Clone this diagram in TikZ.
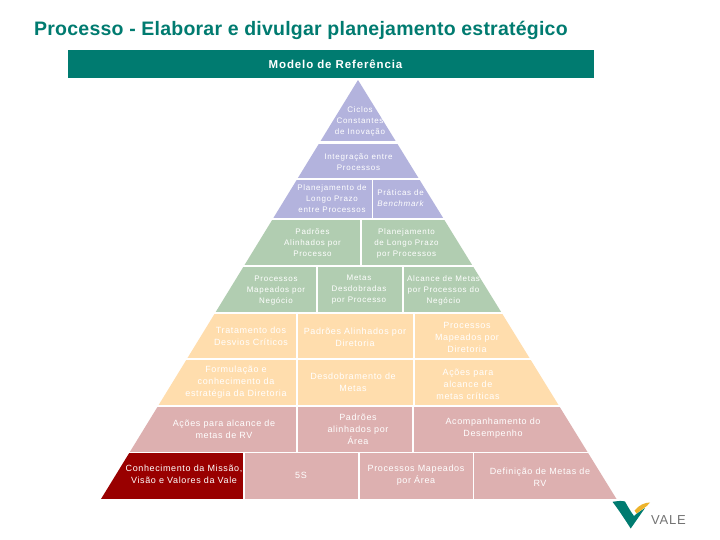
\documentclass[tikz,border=0pt]{standalone}
\usepackage{fontspec}
\setmainfont{Liberation Sans}
\newfontfamily\labA[LetterSpace=9]{Liberation Sans}
\newfontfamily\labB[LetterSpace=7]{Liberation Sans}
\newfontfamily\labT[LetterSpace=1.2]{Liberation Sans}
\newfontfamily\labH[LetterSpace=7.5]{Liberation Sans}
\newfontfamily\labV[LetterSpace=6]{Liberation Sans}
\definecolor{teal1}{HTML}{007B70}
\definecolor{purp}{HTML}{B3B3DD}
\definecolor{grn}{HTML}{B1CDB1}
\definecolor{org}{HTML}{FFDDAD}
\definecolor{pnk}{HTML}{DDB0B0}
\definecolor{dred}{HTML}{990000}
\definecolor{ylw}{HTML}{EDB32B}
\tikzset{
  small/.style={text=white,align=center,inner sep=0pt,font=\fontsize{8}{11}\labA},
  big/.style={text=white,align=center,inner sep=0pt,font=\fontsize{9}{12}\labB},
}
\newcommand{\cellbox}[5]{\fill[#1] (#2,#4) rectangle (#3,#5);}
\begin{document}
\begin{tikzpicture}[x=1pt,y=-1pt]
\useasboundingbox (0,0) rectangle (720,540);
\fill[white] (0,0) rectangle (720,540);
\node[anchor=base west,inner sep=0pt,text=teal1,font=\fontsize{19.5}{22}\labT\bfseries] (title) at (34,36) {Processo - Elaborar e divulgar planejamento estratégico};
\fill[teal1] (68,50) rectangle (594,78);
\node[inner sep=0pt,text=white,font=\fontsize{11.5}{13}\labH\bfseries] (head) at (335.5,64) {Modelo de Referência};
\begin{scope}
\clip (358,80) -- (616.5,499) -- (101,499) -- cycle;
\cellbox{purp}{90}{630}{80}{141.5}
\cellbox{purp}{90}{630}{143.7}{178}
\cellbox{purp}{90}{371.5}{180.3}{218}
\cellbox{purp}{373.3}{630}{180.3}{218}
\cellbox{grn}{90}{360}{220}{264.7}
\cellbox{grn}{362}{630}{220}{264.7}
\cellbox{grn}{90}{316}{266.7}{312}
\cellbox{grn}{317.8}{402}{266.7}{312}
\cellbox{grn}{403.8}{630}{266.7}{312}
\cellbox{org}{90}{296}{314}{357.8}
\cellbox{org}{298}{412.7}{314}{357.8}
\cellbox{org}{414.7}{630}{314}{357.8}
\cellbox{org}{90}{296}{360}{405}
\cellbox{org}{298}{412.7}{360}{405}
\cellbox{org}{414.7}{630}{360}{405}
\cellbox{pnk}{90}{296}{407}{451.8}
\cellbox{pnk}{298}{412}{407}{451.8}
\cellbox{pnk}{413.8}{630}{407}{451.8}
\cellbox{dred}{90}{243.3}{453.4}{499}
\cellbox{pnk}{245}{358.3}{453.4}{499}
\cellbox{pnk}{360}{472.7}{453.4}{499}
\cellbox{pnk}{474.4}{630}{453.4}{499}
\end{scope}
\node[small] (n1) at (360,121.5) {Ciclos\\Constantes\\de Inovação};
\node[small] (n2) at (358.5,162) {Integração entre\\Processos};
\node[small] (n3) at (332,199) {Planejamento de\\Longo Prazo\\entre Processos};
\node[small] (n4) at (400.5,198.5) {Práticas de\\{\itshape Benchmark}};
\node[small] (n5) at (312.5,243) {Padrões\\Alinhados por\\Processo};
\node[small] (n6) at (406.5,243.5) {Planejamento\\de Longo Prazo\\por Processos};
\node[small] (n7) at (276,290.5) {Processos\\Mapeados por\\Negócio};
\node[small] (n8) at (359,289.5) {Metas\\Desdobradas\\por Processo};
\node[small] (n9) at (443.5,290) {Alcance de Metas\\por Processos do\\Negócio};
\node[big] (n10) at (251,336) {Tratamento dos\\Desvios Críticos};
\node[big] (n11) at (355,337) {Padrões Alinhados por\\Diretoria};
\node[big] (n12) at (467,337) {Processos\\Mapeados por\\Diretoria};
\node[big] (n13) at (236,382) {Formulação e\\conhecimento da\\estratégia da Diretoria};
\node[big] (n14) at (353,382.5) {Desdobramento de\\Metas};
\node[big] (n15) at (468,384) {Ações para\\alcance de\\metas críticas};
\node[big] (n16) at (224,429.5) {Ações para alcance de\\metas de RV};
\node[big] (n17) at (358,429) {Padrões\\alinhados por\\Área};
\node[big] (n18) at (493,428.5) {Acompanhamento do\\Desempenho};
\node[big] (n19) at (184,474.5) {Conhecimento da Missão,\\Visão e Valores da Vale};
\node[big] (n20) at (301,475) {5S};
\node[big] (n21) at (416,475.5) {Processos Mapeados\\por Área};
\node[big] (n22) at (540,477) {Definição de Metas de\\RV};
% logo
\fill[teal1] (612.5,501.8) .. controls (618,501) and (622,500.5) .. (625,501.5) .. controls (628,507) and (631,512) .. (634,516) .. controls (637,513) and (642,510) .. (645,508) -- (630.7,528.5) .. controls (624,518) and (618,509) .. (612.5,501.8) -- cycle;
\fill[ylw] (634.5,510.5) .. controls (639,505) and (645,502.5) .. (650,502.5) .. controls (648,505) and (646,507) .. (643.5,508.5) -- (636.5,513.5) -- cycle;
\node[anchor=base west,inner sep=0pt,text=black!55,font=\fontsize{13}{15}\labV] (logo) at (651,524) {VALE};
\end{tikzpicture}
\end{document}
